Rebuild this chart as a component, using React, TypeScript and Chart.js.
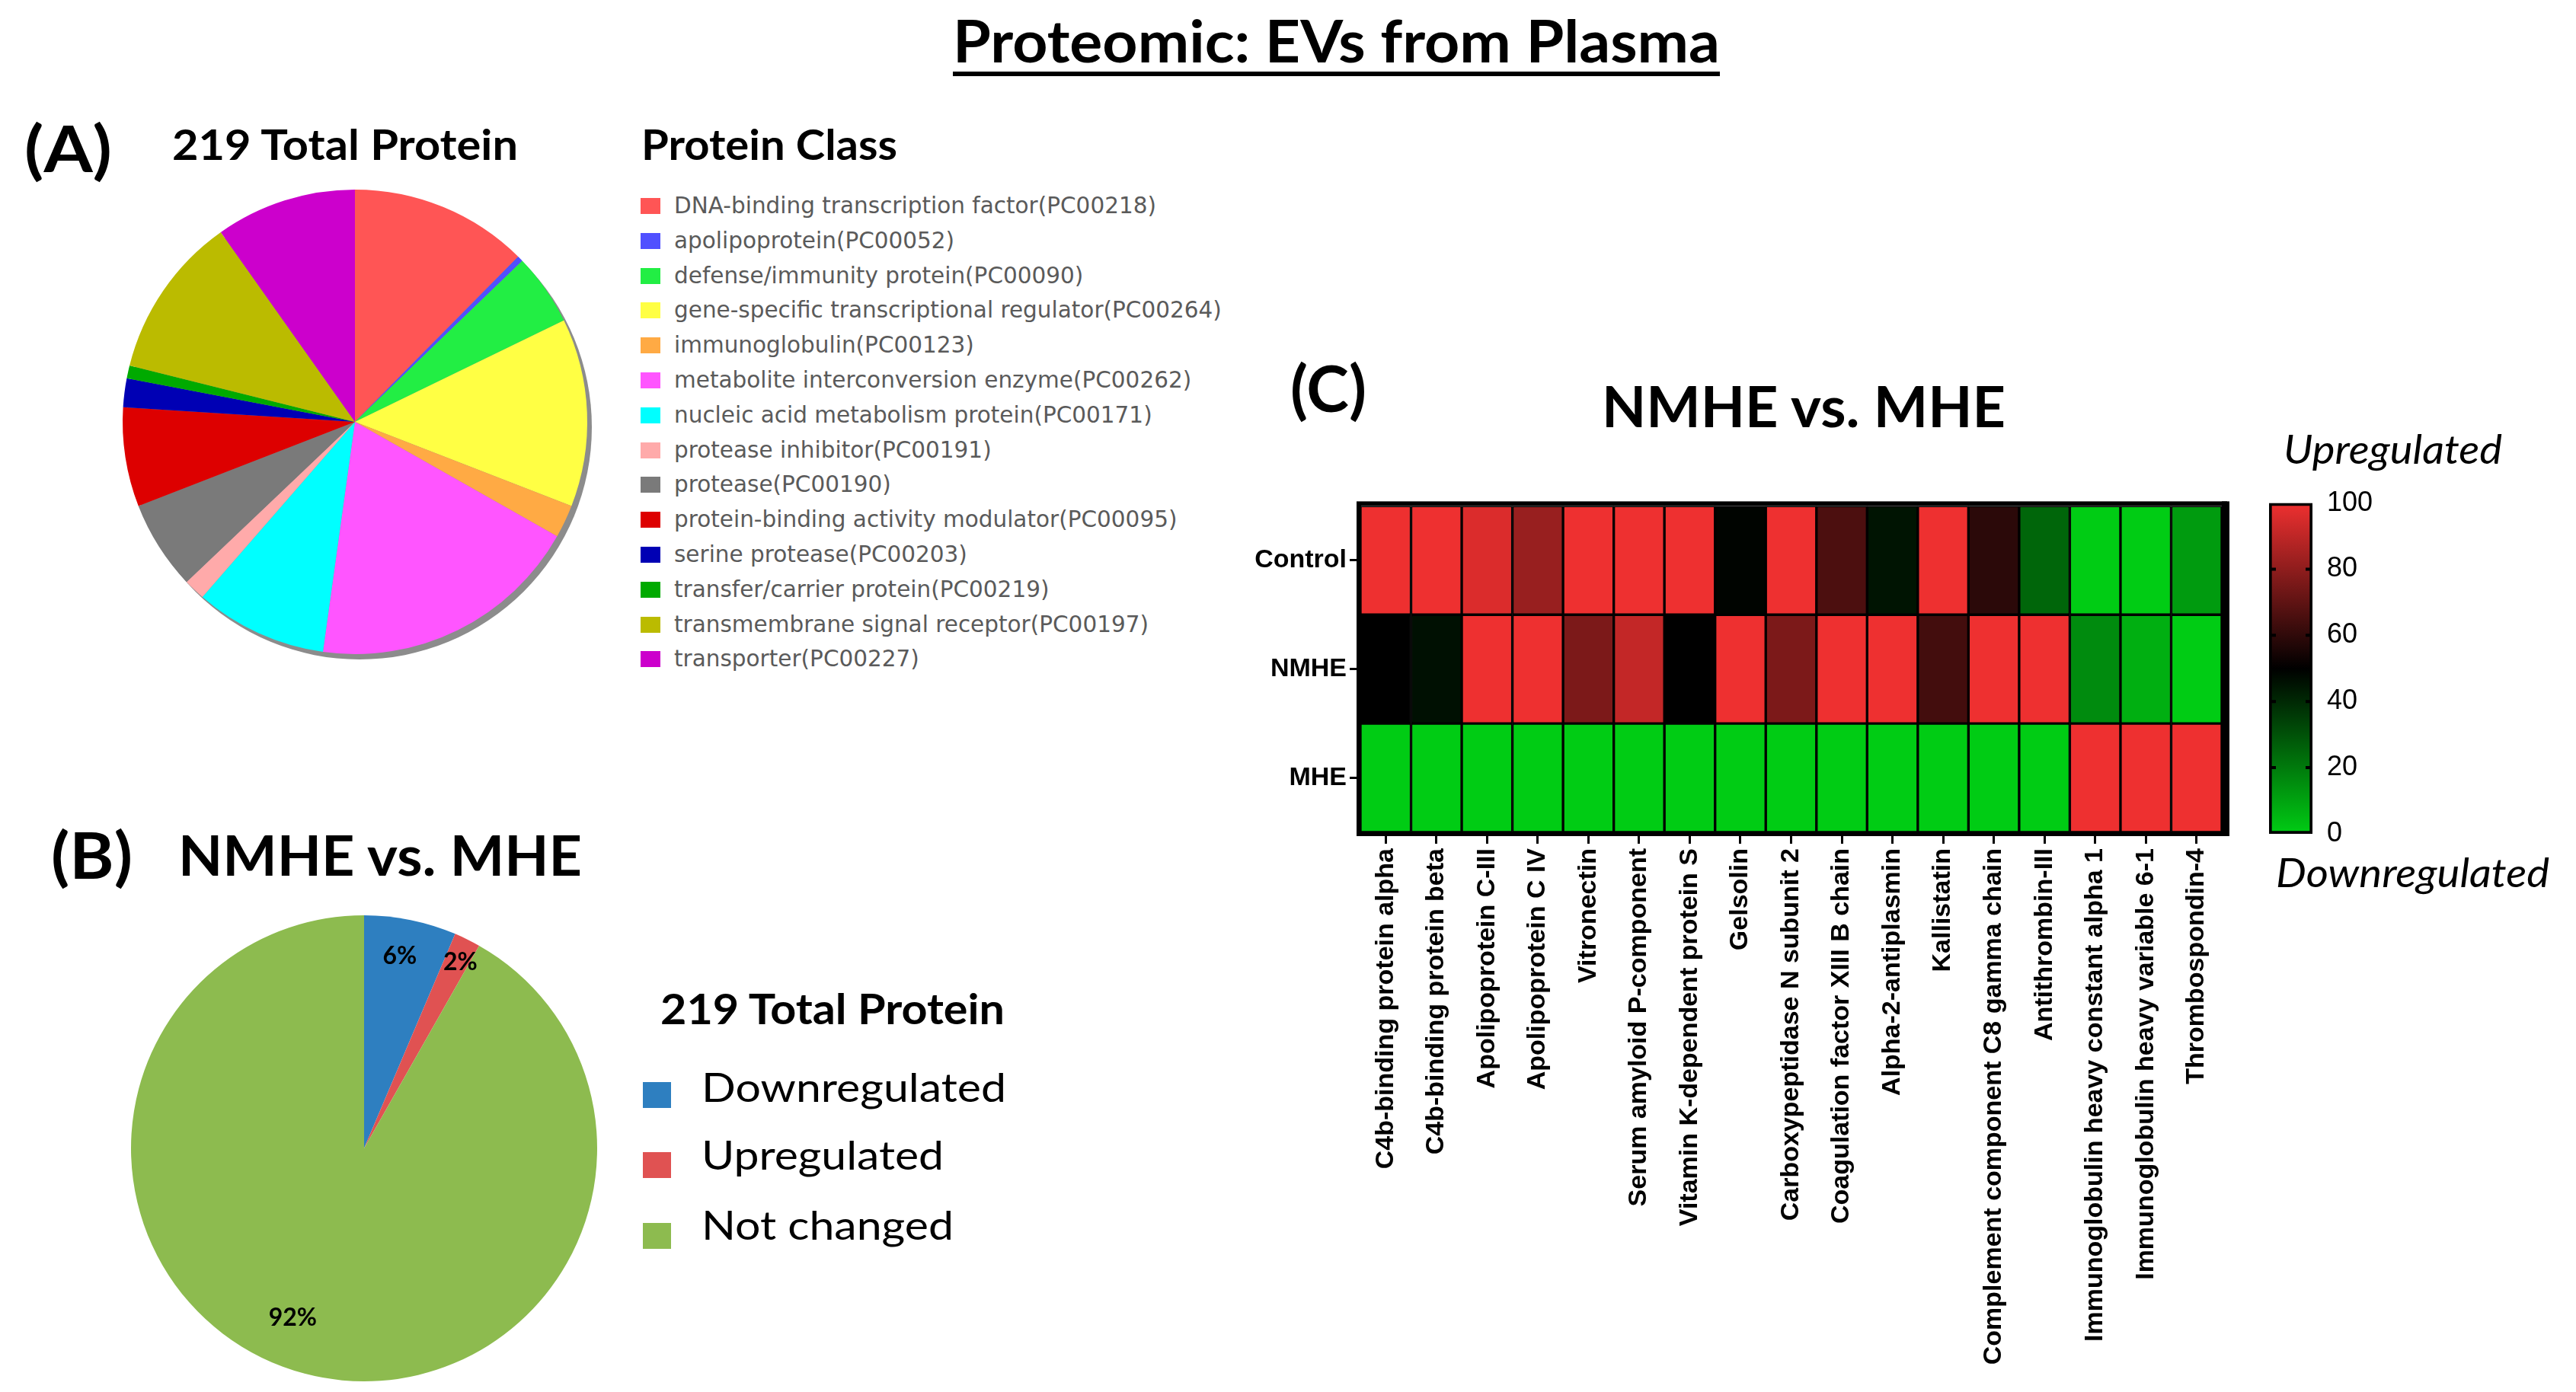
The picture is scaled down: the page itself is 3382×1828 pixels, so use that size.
import React, { useEffect, useLayoutEffect, useRef } from 'react';
import { Chart, registerables } from 'chart.js';

Chart.register(...registerables);

// ---------------- DATA ----------------
const proteinClassLabels = [
  'DNA-binding transcription factor(PC00218)',
  'apolipoprotein(PC00052)',
  'defense/immunity protein(PC00090)',
  'gene-specific transcriptional regulator(PC00264)',
  'immunoglobulin(PC00123)',
  'metabolite interconversion enzyme(PC00262)',
  'nucleic acid metabolism protein(PC00171)',
  'protease inhibitor(PC00191)',
  'protease(PC00190)',
  'protein-binding activity modulator(PC00095)',
  'serine protease(PC00203)',
  'transfer/carrier protein(PC00219)',
  'transmembrane signal receptor(PC00197)',
  'transporter(PC00227)',
];
const proteinClassShares = [12.4, 0.4, 5.0, 13.1, 2.3, 19.0, 9.2, 1.5, 6.2, 6.9, 2.0, 0.9, 11.3, 9.8];
const proteinClassColors = [
  '#FF5555', '#5050FF', '#22EE44', '#FFFF44', '#FFAA44', '#FF55FF', '#00FFFF',
  '#FFAAAA', '#7A7A7A', '#DD0000', '#0000B4', '#00AA00', '#BBBB00', '#CC00CC',
];

const regulationLabels = ['Downregulated', 'Upregulated', 'Not changed'];
const regulationCounts = [14, 4, 201];
const regulationColors = ['#2E7FC0', '#E05252', '#8DBB4F'];

const proteinNames = [
  'C4b-binding protein alpha',
  'C4b-binding protein beta',
  'Apolipoprotein C-III',
  'Apolipoprotein C IV',
  'Vitronectin',
  'Serum amyloid P-component',
  'Vitamin K-dependent protein S',
  'Gelsolin',
  'Carboxypeptidase N subunit 2',
  'Coagulation factor XIII B chain',
  'Alpha-2-antiplasmin',
  'Kallistatin',
  'Complement component C8 gamma chain',
  'Antithrombin-III',
  'Immunoglobulin heavy constant alpha 1',
  'Immunoglobulin heavy variable 6-1',
  'Thrombospondin-4',
];
const groupLabels = ['Control', 'NMHE', 'MHE'];
const controlValues = [100, 100, 96, 82, 100, 100, 100, 49, 100, 66, 45, 100, 59, 25, 0, 0, 12];
const nmheValues = [50, 46, 100, 100, 76, 91, 50, 100, 76, 100, 100, 64, 100, 100, 16, 7, 0];
const mheValues = [0, 0, 0, 0, 0, 0, 0, 0, 0, 0, 0, 0, 0, 0, 100, 100, 100];
const colorScaleMin = 0;
const colorScaleMax = 100;
const colorScaleStep = 20;

// ---------------- STYLE ----------------
const RED = [238, 48, 48];
const GREEN = [0, 204, 20];
function heatColor(v: number): string {
  const mid = (colorScaleMin + colorScaleMax) / 2;
  const half = (colorScaleMax - colorScaleMin) / 2;
  if (v >= mid) {
    const t = (v - mid) / half;
    return `rgb(${Math.round(RED[0] * t)},${Math.round(RED[1] * t)},${Math.round(RED[2] * t)})`;
  }
  const t = (mid - v) / half;
  return `rgb(${Math.round(GREEN[0] * t)},${Math.round(GREEN[1] * t)},${Math.round(GREEN[2] * t)})`;
}

const ARIAL = "'Liberation Sans', Arial, sans-serif";
const LATO = "Lato, 'Open Sans', sans-serif";
// label placement for pie B: [radius fraction, angle shift in degrees]
const pieBLabelPlacement: [number, number][] = [
  [0.84, -1],
  [0.9, 1],
  [0.79, 8],
];

// ---------------- TEXT HELPER ----------------
type TxtProps = {
  x: number;
  baseline: number;
  size: number;
  family?: string;
  weight?: number;
  italic?: boolean;
  width?: number;
  color?: string;
  children: React.ReactNode;
};

function Txt({ x, baseline, size, family = LATO, weight = 700, italic = false, width, color = '#000', children }: TxtProps) {
  const ref = useRef<HTMLDivElement>(null);
  const mark = useRef<HTMLSpanElement>(null);
  useLayoutEffect(() => {
    const fit = () => {
      const el = ref.current;
      const m = mark.current;
      if (!el || !m) return;
      el.style.transform = 'none';
      el.style.top = '0px';
      const b = m.offsetTop + m.offsetHeight;
      el.style.top = `${baseline - b}px`;
      if (width) {
        const w = el.getBoundingClientRect().width;
        if (w > 0) el.style.transform = `scaleX(${width / w})`;
      }
    };
    fit();
    const fonts = (document as any).fonts;
    if (fonts && fonts.ready) fonts.ready.then(fit);
  });
  return (
    <div
      ref={ref}
      style={{
        position: 'absolute',
        left: x,
        top: 0,
        fontFamily: family,
        fontSize: size,
        fontWeight: weight,
        fontStyle: italic ? 'italic' : 'normal',
        lineHeight: 1,
        whiteSpace: 'nowrap',
        color,
        transformOrigin: 'left top',
      }}
    >
      {children}
      <span ref={mark} style={{ display: 'inline-block', width: 0, height: 0 }} />
    </div>
  );
}

// ---------------- PLUGINS ----------------
const pieShadowPlugin = {
  id: 'pieShadow',
  beforeDatasetsDraw(chart: any) {
    const arc = chart.getDatasetMeta(0).data[0];
    if (!arc) return;
    const { x, y, outerRadius } = arc.getProps(['x', 'y', 'outerRadius'], true);
    const ctx = chart.ctx;
    ctx.save();
    ctx.fillStyle = '#8c8c8c';
    ctx.beginPath();
    ctx.arc(x + 6, y + 7, outerRadius, 0, Math.PI * 2);
    ctx.fill();
    ctx.restore();
  },
};

const pieBLabelPlugin = {
  id: 'pieBLabels',
  afterDatasetsDraw(chart: any) {
    const meta = chart.getDatasetMeta(0);
    const data = chart.data.datasets[0].data as number[];
    const total = data.reduce((a, b) => a + b, 0);
    const ctx = chart.ctx;
    ctx.save();
    ctx.fillStyle = '#000';
    ctx.font = `bold 32px ${LATO}`;
    ctx.textAlign = 'center';
    ctx.textBaseline = 'middle';
    meta.data.forEach((arc: any, i: number) => {
      const { x, y, startAngle, endAngle, outerRadius } = arc.getProps(
        ['x', 'y', 'startAngle', 'endAngle', 'outerRadius'],
        true
      );
      const [rf, shift] = pieBLabelPlacement[i];
      const a = (startAngle + endAngle) / 2 + (shift * Math.PI) / 180;
      const px = x + Math.cos(a) * outerRadius * rf;
      const py = y + Math.sin(a) * outerRadius * rf;
      ctx.fillText(`${Math.round((data[i] / total) * 100)}%`, px, py);
    });
    ctx.restore();
  },
};

const heatBorderPlugin = {
  id: 'heatBorder',
  afterDatasetsDraw(chart: any) {
    const { left, top, right, bottom } = chart.chartArea;
    const ctx = chart.ctx;
    ctx.save();
    ctx.strokeStyle = '#000';
    ctx.lineWidth = 6;
    ctx.strokeRect(left - 2, top - 3, right - left + 6, bottom - top + 5);
    ctx.fillStyle = '#000';
    ctx.fillRect(right, top - 6, 10, bottom - top + 11);
    ctx.restore();
  },
};

const colorbarTickMarks = {
  id: 'cbMarks',
  afterDatasetsDraw(chart: any) {
    const yScale = chart.scales.y;
    const { left, right } = chart.chartArea;
    const ctx = chart.ctx;
    ctx.save();
    ctx.strokeStyle = '#000';
    ctx.lineWidth = 4;
    yScale.ticks.forEach((t: any) => {
      if (t.value <= colorScaleMin || t.value >= colorScaleMax) return;
      const py = yScale.getPixelForValue(t.value);
      ctx.beginPath();
      ctx.moveTo(left, py);
      ctx.lineTo(left + 9, py);
      ctx.moveTo(right - 9, py);
      ctx.lineTo(right, py);
      ctx.stroke();
    });
    ctx.restore();
  },
};

// ---------------- APP ----------------
export default function App() {
  const pieARef = useRef<HTMLCanvasElement>(null);
  const pieBRef = useRef<HTMLCanvasElement>(null);
  const heatRef = useRef<HTMLCanvasElement>(null);
  const barRef = useRef<HTMLCanvasElement>(null);

  useEffect(() => {
    const charts: Chart[] = [];

    charts.push(
      new Chart(pieARef.current!, {
        type: 'pie',
        data: {
          labels: proteinClassLabels,
          datasets: [{ data: proteinClassShares, backgroundColor: proteinClassColors, borderWidth: 0 }],
        },
        options: {
          responsive: false,
          animation: false,
          layout: { padding: 15 },
          plugins: { legend: { display: false }, tooltip: { enabled: false } },
        },
        plugins: [pieShadowPlugin],
      } as any)
    );

    charts.push(
      new Chart(pieBRef.current!, {
        type: 'pie',
        data: {
          labels: regulationLabels,
          datasets: [{ data: regulationCounts, backgroundColor: regulationColors, borderWidth: 0 }],
        },
        options: {
          responsive: false,
          animation: false,
          layout: { padding: 12 },
          plugins: { legend: { display: false }, tooltip: { enabled: false } },
        },
        plugins: [pieBLabelPlugin],
      } as any)
    );

    const rows = [
      { label: groupLabels[2], values: mheValues },
      { label: groupLabels[1], values: nmheValues },
      { label: groupLabels[0], values: controlValues },
    ];
    charts.push(
      new Chart(heatRef.current!, {
        type: 'bar',
        data: {
          labels: proteinNames,
          datasets: rows.map((r) => ({
            label: r.label,
            data: r.values.map(() => 1),
            backgroundColor: r.values.map(heatColor),
            borderColor: '#000',
            borderWidth: 2,
            borderSkipped: false,
            barPercentage: 1,
            categoryPercentage: 1,
          })),
        },
        options: {
          responsive: false,
          animation: false,
          layout: { padding: { top: 24, right: 43, left: 0, bottom: 0 } },
          plugins: { legend: { display: false }, tooltip: { enabled: false } },
          scales: {
            x: {
              type: 'category',
              stacked: true,
              offset: true,
              grid: { offset: false, drawOnChartArea: false, drawTicks: true, tickLength: 15, color: '#000', lineWidth: 3 },
              border: { display: false },
              ticks: {
                autoSkip: false,
                minRotation: 90,
                maxRotation: 90,
                padding: 6,
                color: '#000',
                font: { family: ARIAL, weight: 'bold', size: 34 },
              },
              afterFit: (s: any) => {
                s.height = 735;
              },
            },
            y: {
              type: 'linear',
              stacked: true,
              min: 0,
              max: groupLabels.length,
              afterBuildTicks: (s: any) => {
                s.ticks = groupLabels.map((_, i) => ({ value: i + 0.5 }));
              },
              ticks: {
                callback: (v: any) => groupLabels[groupLabels.length - 1 - Math.floor(Number(v))],
                padding: 4,
                color: '#000',
                font: { family: ARIAL, weight: 'bold', size: 34 },
              },
              grid: { drawOnChartArea: false, drawTicks: true, tickLength: 14, color: '#000', lineWidth: 3 },
              border: { display: false },
              afterFit: (s: any) => {
                s.width = 186;
              },
            },
          },
        },
        plugins: [heatBorderPlugin],
      } as any)
    );

    charts.push(
      new Chart(barRef.current!, {
        type: 'bar',
        data: {
          labels: [''],
          datasets: [
            {
              data: [[colorScaleMin, colorScaleMax]],
              backgroundColor: (ctx: any) => {
                const { chart } = ctx;
                const area = chart.chartArea;
                if (!area) return '#000';
                const g = chart.ctx.createLinearGradient(0, area.bottom, 0, area.top);
                g.addColorStop(0, `rgb(${GREEN.join(',')})`);
                g.addColorStop(0.5, '#000');
                g.addColorStop(1, `rgb(${RED.join(',')})`);
                return g;
              },
              borderColor: '#000',
              borderWidth: 4,
              borderSkipped: false,
              barPercentage: 1,
              categoryPercentage: 1,
            },
          ],
        },
        options: {
          responsive: false,
          animation: false,
          layout: { padding: { left: 19, top: 40, bottom: 45, right: 0 } },
          plugins: { legend: { display: false }, tooltip: { enabled: false } },
          scales: {
            x: { display: false },
            y: {
              position: 'right',
              min: colorScaleMin,
              max: colorScaleMax,
              ticks: {
                stepSize: colorScaleStep,
                padding: 19,
                color: '#000',
                font: { family: ARIAL, size: 36 },
              },
              grid: { display: false, drawTicks: false },
              border: { display: false },
              afterFit: (s: any) => {
                s.width = 184;
              },
            },
          },
        },
        plugins: [colorbarTickMarks],
      } as any)
    );

    return () => charts.forEach((c) => c.destroy());
  }, []);

  const legendARow0 = 270;
  const legendAStep = 45.8;
  const legendBRows = [1438, 1530, 1623];
  const legendBBaselines = [1447, 1536, 1628];
  const legendBWidths = [400, 318, 331];

  return (
    <div
      style={{
        position: 'absolute',
        left: 0,
        top: 0,
        width: 3382,
        height: 1828,
        background: '#fff',
        overflow: 'hidden',
      }}
    >
      {/* Main title */}
      <Txt x={1251} baseline={82} size={77} width={1007}>Proteomic: EVs from Plasma</Txt>
      <div style={{ position: 'absolute', left: 1251, top: 94, width: 1007, height: 6, background: '#000' }} />

      {/* Panel A */}
      <Txt x={32} baseline={226} size={84} width={115}>(A)</Txt>
      <Txt x={226} baseline={210} size={56} width={454}>219 Total Protein</Txt>
      <Txt x={842} baseline={210} size={56} width={336}>Protein Class</Txt>
      <canvas
        ref={pieARef}
        width={640}
        height={640}
        style={{ position: 'absolute', left: 146, top: 234, width: 640, height: 640 }}
      />
      {proteinClassLabels.map((lab, i) => {
        const cy = legendARow0 + i * legendAStep;
        return (
          <React.Fragment key={lab}>
            <div
              style={{
                position: 'absolute',
                left: 841,
                top: cy - 10,
                width: 26,
                height: 21,
                background: proteinClassColors[i],
              }}
            />
            <Txt x={885} baseline={cy + 10} size={29.5} family="'DejaVu Sans', sans-serif" weight={400} color="#5a5a5a">
              {lab}
            </Txt>
          </React.Fragment>
        );
      })}

      {/* Panel B */}
      <Txt x={67} baseline={1154} size={84} width={107}>(B)</Txt>
      <Txt x={234} baseline={1150} size={72} width={530}>NMHE vs. MHE</Txt>
      <canvas
        ref={pieBRef}
        width={636}
        height={636}
        style={{ position: 'absolute', left: 160, top: 1190, width: 636, height: 636 }}
      />
      <Txt x={867} baseline={1345} size={56} width={452}>219 Total Protein</Txt>
      {regulationLabels.map((lab, i) => (
        <React.Fragment key={lab}>
          <div
            style={{
              position: 'absolute',
              left: 844,
              top: legendBRows[i] - 17,
              width: 37,
              height: 34,
              background: regulationColors[i],
            }}
          />
          <Txt x={921} baseline={legendBBaselines[i]} size={52} weight={400} width={legendBWidths[i]}>
            {lab}
          </Txt>
        </React.Fragment>
      ))}

      {/* Panel C */}
      <Txt x={1694} baseline={541} size={84} width={100}>(C)</Txt>
      <Txt x={2103} baseline={561} size={74} width={530}>NMHE vs. MHE</Txt>
      <Txt x={2998} baseline={609} size={52} weight={400} italic width={287}>Upregulated</Txt>
      <Txt x={2988} baseline={1165} size={52} weight={400} italic width={359}>Downregulated</Txt>
      <canvas
        ref={heatRef}
        width={1360}
        height={1188}
        style={{ position: 'absolute', left: 1600, top: 640, width: 1360, height: 1188 }}
      />
      <canvas
        ref={barRef}
        width={260}
        height={520}
        style={{ position: 'absolute', left: 2960, top: 620, width: 260, height: 520 }}
      />
    </div>
  );
}
